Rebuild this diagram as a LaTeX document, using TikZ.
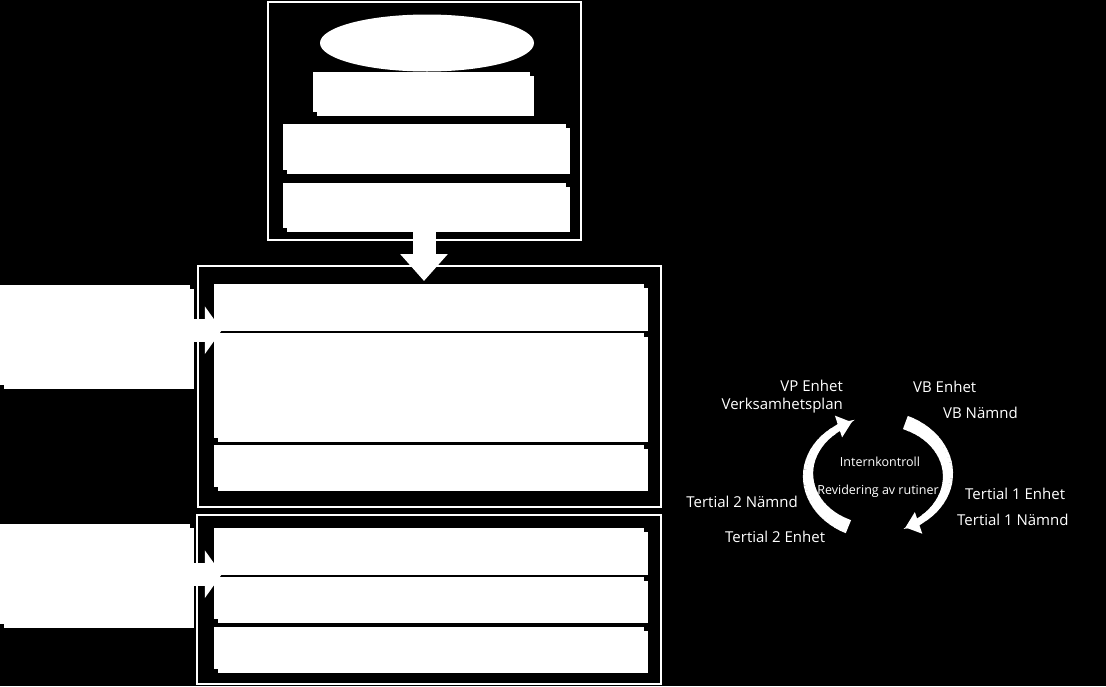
\documentclass[tikz,border=0pt]{standalone}
\usepackage{fontspec}
\setmainfont{Open Sans}
\usepackage{xcolor}
\usepackage{tikz}
\usetikzlibrary{shapes.geometric, arrows.meta, positioning, calc, shadows}
\definecolor{bgblack}{HTML}{000000}
\definecolor{boxwhite}{HTML}{FFFFFF}
\tikzstyle{framebox} = [rectangle, draw=boxwhite, line width=1.5pt, inner sep=0pt]
\tikzstyle{whitebox} = [rectangle, fill=boxwhite, inner sep=0pt,
  drop shadow={shadow xshift=4pt, shadow yshift=-4pt, fill=boxwhite, opacity=1}]
\tikzstyle{innerbox} = [whitebox, minimum width=430pt]
\tikzstyle{sidebox} = [whitebox, minimum width=190pt, minimum height=100pt]
\tikzstyle{blockarrow} = [draw=boxwhite, line width=23pt]
\tikzstyle{cyclearrow} = [draw=boxwhite, line width=7pt, -{Triangle[width=22pt,length=14pt]}]
\tikzstyle{cyclelabel} = [text=boxwhite, font=\fontsize{15}{18}\selectfont, inner sep=0pt]
\tikzstyle{centerlabel} = [text=boxwhite, font=\fontsize{12.5}{15}\selectfont, inner sep=0pt]

\begin{document}
\begin{tikzpicture}[x=1pt, y=-1pt, node distance=6pt]
  \fill[bgblack] (0,0) rectangle (1106,686);
  \useasboundingbox (0,0) rectangle (1106,686);

  % top stack
  \node (topframe) [framebox, minimum width=313pt, minimum height=238pt] at (424.5,121) {};
  \node (goal) [ellipse, fill=boxwhite, inner sep=0pt, minimum width=214pt, minimum height=57pt] at (427,43) {};
  \node (top1) [whitebox, minimum width=217pt, minimum height=40pt, below=0pt of goal, xshift=-5.5pt] {};
  \node (top2) [whitebox, minimum width=283pt, minimum height=46pt, below=12pt of top1, xshift=3pt] {};
  \node (top3) [whitebox, minimum width=283pt, minimum height=45pt, below=12pt of top2] {};

  % middle stack
  \node (midframe) [framebox, minimum width=463pt, minimum height=241pt] at (429.5,386.5) {};
  \node (midA) [innerbox, minimum height=43pt] at (429,305.5) {};
  \node (midB) [innerbox, minimum height=105pt, below=of midA] {};
  \node (midC) [innerbox, minimum height=42pt, below=of midB] {};
  \node (leftA) [sidebox] at (95,335) {};

  % bottom stack
  \node (botframe) [framebox, minimum width=464pt, minimum height=169pt] at (429,599.5) {};
  \node (botA) [innerbox, minimum height=43pt] at (429,549.5) {};
  \node (botB) [innerbox, minimum height=42pt, below=of botA] {};
  \node (botC) [innerbox, minimum height=42pt, below=7pt of botB] {};
  \node (leftB) [sidebox] at (95,574) {};

  % block arrows
  \coordinate (downtip) at (424,281);
  \coordinate (gapA) at ($(midA.south)!0.5!(midB.north)$);
  \coordinate (gapB) at ($(botA.south)!0.5!(botB.north)$);
  \draw[blockarrow, -{Triangle[width=46pt,length=27pt]}] (top3.south -| downtip) -- (downtip);
  \draw[blockarrow, -{Triangle[width=47pt,length=17pt]}] (leftA.east |- gapA) -- ([xshift=8pt]midA.west |- gapA);
  \draw[blockarrow, -{Triangle[width=47pt,length=17pt]}] (leftB.east |- gapB) -- ([xshift=8pt]botA.west |- gapB);

  % cycle
  \coordinate (cyc) at (878,475);
  \foreach \a [evaluate=\a as \w using {14-7*(\a-115)/115}] in {115,120,...,225}
    \draw[boxwhite, line width=\w pt] ([shift={(\a:70 and 57)}]cyc) arc[start angle=\a, end angle=\a+5.5, x radius=70, y radius=57];
  \draw[cyclearrow] ([shift={(228:70 and 57)}]cyc) arc[start angle=228, end angle=248, x radius=70, y radius=57];
  \foreach \a [evaluate=\a as \w using {14-7*(\a-293)/115}] in {293,298,...,403}
    \draw[boxwhite, line width=\w pt] ([shift={(\a:70 and 57)}]cyc) arc[start angle=\a, end angle=\a+5.5, x radius=70, y radius=57];
  \draw[cyclearrow] ([shift={(406:70 and 57)}]cyc) arc[start angle=406, end angle=427, x radius=70, y radius=57];

  \node (vpenhet) [cyclelabel, anchor=base east] at (843,391) {VP Enhet};
  \node (vplan)   [cyclelabel, anchor=base east] at (843,409) {Verksamhetsplan};
  \node (vbenhet) [cyclelabel, anchor=base west] at (913,392) {VB Enhet};
  \node (vbnamnd) [cyclelabel, anchor=base west] at (943,418) {VB Nämnd};
  \node (intern)  [centerlabel, anchor=base] at (880,466) {Internkontroll};
  \node (revid)   [centerlabel, anchor=base] at (878,494) {Revidering av rutiner};
  \node (t1enhet) [cyclelabel, anchor=base west] at (965,499) {Tertial 1 Enhet};
  \node (t1namnd) [cyclelabel, anchor=base west] at (957,525) {Tertial 1 Nämnd};
  \node (t2namnd) [cyclelabel, anchor=base east] at (798,507) {Tertial 2 Nämnd};
  \node (t2enhet) [cyclelabel, anchor=base west] at (725,542) {Tertial 2 Enhet};
\end{tikzpicture}
\end{document}
